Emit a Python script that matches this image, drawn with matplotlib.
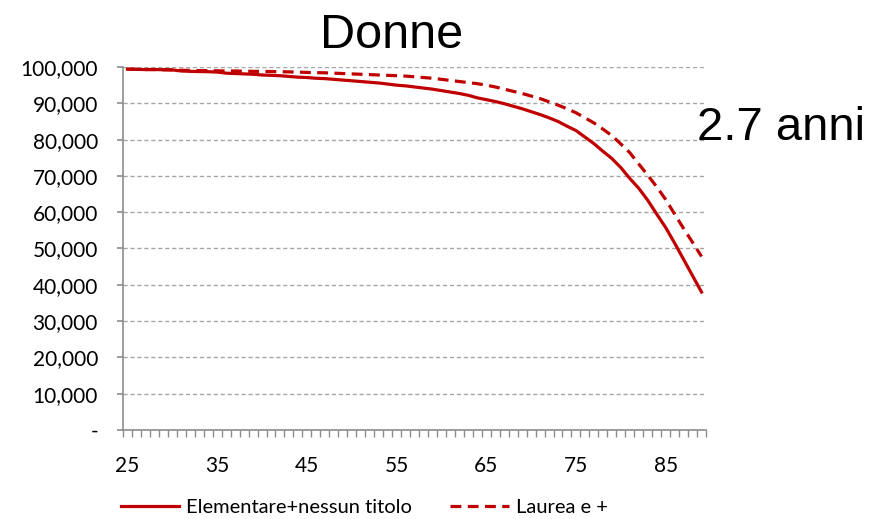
import matplotlib
matplotlib.use("Agg")
import matplotlib.pyplot as plt
from matplotlib.ticker import FixedLocator, FuncFormatter

ages = list(range(25, 90))
elementare = [99.4, 99.35, 99.3, 99.3, 99.25, 99.2, 98.9, 98.8, 98.75, 98.7,
              98.6, 98.3, 98.2, 98.1, 98.0, 97.8, 97.7, 97.6, 97.4, 97.2,
              97.1, 96.9, 96.8, 96.6, 96.4, 96.2, 96.0, 95.8, 95.6, 95.3,
              95.0, 94.8, 94.5, 94.2, 93.9, 93.5, 93.1, 92.7, 92.2, 91.5,
              91.0, 90.5, 89.9, 89.2, 88.5, 87.7, 86.9, 86.0, 85.0, 83.7,
              82.5, 80.7, 78.9, 76.8, 74.8, 72.3, 69.3, 66.6, 63.3, 59.5,
              55.8, 51.5, 47.0, 42.5, 38.0]
laurea = [99.4, 99.35, 99.3, 99.3, 99.25, 99.2, 99.1, 99.05, 99.0, 99.0,
          98.95, 98.9, 98.9, 98.85, 98.8, 98.8, 98.75, 98.7, 98.65, 98.6,
          98.5, 98.45, 98.4, 98.3, 98.2, 98.1, 98.0, 97.9, 97.8, 97.7,
          97.6, 97.5, 97.3, 97.1, 96.9, 96.6, 96.3, 96.0, 95.7, 95.4,
          95.0, 94.5, 93.9, 93.3, 92.7, 92.0, 91.3, 90.4, 89.5, 88.5,
          87.4, 86.0, 84.6, 82.9, 81.1, 78.8, 76.4, 73.3, 70.2, 67.0,
          63.5, 59.5, 55.5, 51.7, 47.8]
elementare = [v * 1000 for v in elementare]
laurea = [v * 1000 for v in laurea]
series_labels = ["Elementare+nessun titolo", "Laurea e +"]
title = "Donne"
annotation = "2.7 anni"
y_ticks = list(range(0, 100001, 10000))
x_label_ages = [25, 35, 45, 55, 65, 75, 85]

tick_font = "Lato"
red = "#c00000"
gray = "#8c8c8c"

fig = plt.figure(figsize=(8.71, 5.19), dpi=100)
ax = fig.add_axes([123 / 871, 1 - 430 / 519, (706 - 123) / 871, (430 - 67) / 519])

idx = list(range(len(ages)))
ax.plot(idx, elementare, color=red, lw=2.3, label=series_labels[0], solid_joinstyle="round")
ax.plot(idx, laurea, color=red, lw=2.3, ls=(0, (3.4, 2.0)), label=series_labels[1])

ax.set_xlim(-0.5, len(ages) - 0.5)
ax.set_ylim(0, 100000)

for s in ["top", "right"]:
    ax.spines[s].set_visible(False)
for s in ["left", "bottom"]:
    ax.spines[s].set_color(gray)
    ax.spines[s].set_linewidth(1.2)

ax.yaxis.set_major_locator(FixedLocator(y_ticks))
ax.yaxis.set_major_formatter(FuncFormatter(lambda v, p: "-" if v == 0 else f"{int(v):,}"))
ax.yaxis.grid(True, color="#a6a6a6", ls=(0, (3, 2)), lw=1.0)
ax.tick_params(axis="y", direction="out", length=4, color=gray, width=1.2, pad=14,
               labelsize=15)

ax.xaxis.set_major_locator(FixedLocator([ages.index(a) for a in x_label_ages]))
ax.xaxis.set_major_formatter(FuncFormatter(lambda v, p: str(ages[int(round(v))])))
ax.xaxis.set_minor_locator(FixedLocator([i + 0.5 for i in range(-1, len(ages))]))
ax.tick_params(axis="x", which="major", length=0, pad=19, labelsize=15)
ax.tick_params(axis="x", which="minor", direction="out", length=5, color=gray, width=1.0)

for lab in ax.get_xticklabels() + ax.get_yticklabels():
    lab.set_fontfamily(tick_font)

fig.text(392 / 871, 1 - 36 / 519, title, ha="center", va="center",
         fontsize=35, family="Liberation Sans")
fig.text(697 / 871, 1 - 128 / 519, annotation, ha="left", va="center",
         fontsize=34, family="Liberation Sans")

leg = fig.legend(loc="center", bbox_to_anchor=(364 / 871, 1 - 507 / 519), ncol=2,
                 frameon=False, handlelength=2.9, columnspacing=1.9, handletextpad=0.35,
                 borderpad=0.1, prop={"family": tick_font, "size": 14.5})

fig.savefig("out.png", dpi=100)
